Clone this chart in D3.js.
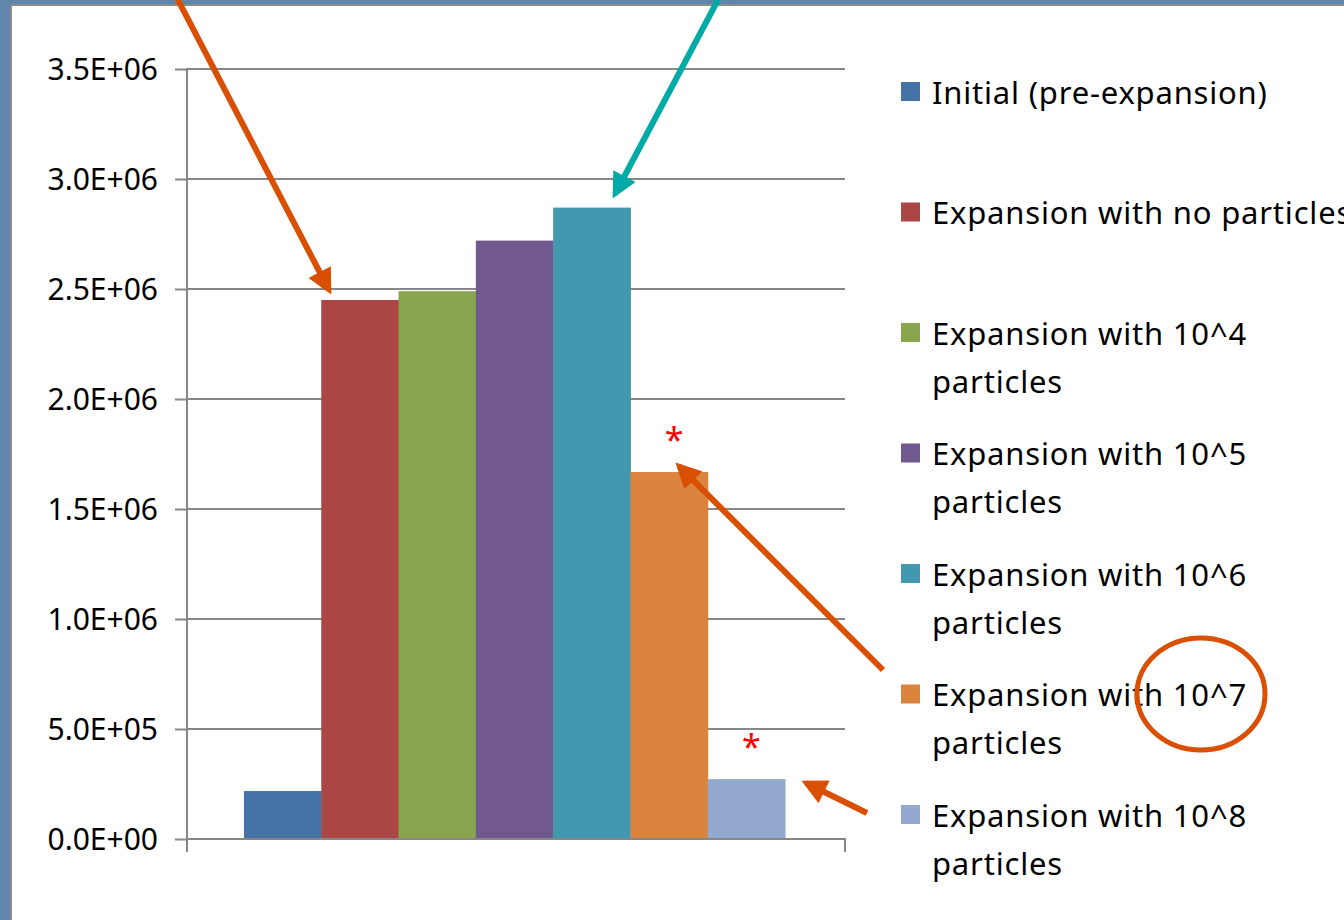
<!DOCTYPE html>
<html>
<head>
<meta charset="utf-8">
<script src="https://cdn.jsdelivr.net/npm/d3@7"></script>
<style>
  html, body { margin: 0; padding: 0; background: #5f87ae; }
  svg { display: block; }
</style>
</head>
<body>
<svg id="chart" width="1344" height="920"></svg>
<script>
// series shown as bars, in legend order
const seriesNames = [
  "Initial (pre-expansion)",
  "Expansion with no particles",
  "Expansion with 10^4 particles",
  "Expansion with 10^5 particles",
  "Expansion with 10^6 particles",
  "Expansion with 10^7 particles",
  "Expansion with 10^8 particles"
];
const seriesValues = [218000, 2450000, 2490000, 2720000, 2870000, 1668000, 272000];
const seriesColors = ["#4572a7", "#aa4643", "#89a54e", "#71588f", "#4198af", "#db843d", "#93a9cf"];
const legendLines = [
  ["Initial (pre-expansion)"],
  ["Expansion with no particles"],
  ["Expansion with 10^4", "particles"],
  ["Expansion with 10^5", "particles"],
  ["Expansion with 10^6", "particles"],
  ["Expansion with 10^7", "particles"],
  ["Expansion with 10^8", "particles"]
];
const yTicks = [0, 500000, 1000000, 1500000, 2000000, 2500000, 3000000, 3500000];
// bars marked with an asterisk
const starred = ["Expansion with 10^7 particles", "Expansion with 10^8 particles"];

const svg = d3.select("#chart");
const W = 1344, H = 920;
const plot = { left: 187, right: 845, top: 69, bottom: 839 };
const accent = "#d94f04";

// slide background + white panel
svg.append("rect").attr("width", W).attr("height", H).attr("fill", "#5f87ae");
svg.append("rect").attr("x", 11).attr("y", 5).attr("width", W).attr("height", H)
  .attr("fill", "#fff").attr("stroke", "#8a8a8a").attr("stroke-width", 2);

const y = d3.scaleLinear().domain([0, 3500000]).range([plot.bottom, plot.top]);
const x = d3.scaleBand().domain(seriesNames).range([plot.left, plot.right - 3])
  .paddingInner(0).paddingOuter(0.737);

function sci(v) {
  if (v === 0) return "0.0E+00";
  const e = Math.floor(Math.log10(v));
  const m = v / Math.pow(10, e);
  return m.toFixed(1) + "E+" + String(e).padStart(2, "0");
}

// gridlines
svg.append("g").selectAll("line").data(yTicks.filter(d => d > 0)).join("line")
  .attr("x1", plot.left).attr("x2", plot.right)
  .attr("y1", d => y(d)).attr("y2", d => y(d))
  .attr("stroke", "#878787").attr("stroke-width", 2);

// bars
svg.append("g").selectAll("rect").data(seriesNames).join("rect")
  .attr("x", d => x(d))
  .attr("width", x.bandwidth() + 0.5)
  .attr("y", (d, i) => y(seriesValues[i]))
  .attr("height", (d, i) => plot.bottom - y(seriesValues[i]))
  .attr("fill", (d, i) => seriesColors[i]);

// y axis
const yAxis = svg.append("g").attr("transform", `translate(${plot.left},0)`)
  .call(d3.axisLeft(y).tickValues(yTicks).tickFormat(sci).tickSize(12).tickPadding(17));
yAxis.select(".domain").remove();
yAxis.selectAll(".tick line").attr("stroke", "#878787").attr("stroke-width", 2);
yAxis.selectAll(".tick text").attr("font-family", "Noto Sans").attr("font-size", 30)
  .attr("fill", "#000").attr("dy", "0.35em");
yAxis.append("line").attr("x1", 0).attr("x2", 0).attr("y1", plot.top - 1).attr("y2", plot.bottom + 13)
  .attr("stroke", "#878787").attr("stroke-width", 2);

// x axis baseline
svg.append("line").attr("x1", plot.left).attr("x2", plot.right + 1)
  .attr("y1", plot.bottom).attr("y2", plot.bottom)
  .attr("stroke", "#878787").attr("stroke-width", 2);
svg.append("line").attr("x1", plot.right).attr("x2", plot.right)
  .attr("y1", plot.bottom).attr("y2", plot.bottom + 13)
  .attr("stroke", "#878787").attr("stroke-width", 2);

// asterisks
svg.append("g").selectAll("text").data(starred).join("text")
  .attr("x", d => x(d) + x.bandwidth() / 2 + 5)
  .attr("y", d => y(seriesValues[seriesNames.indexOf(d)]) - 20)
  .attr("text-anchor", "middle")
  .attr("font-family", "Noto Sans").attr("font-size", 34).attr("fill", "#ff0000")
  .text("*");

// legend
const legend = svg.append("g").attr("transform", "translate(901,0)");
const item = legend.selectAll("g").data(seriesNames).join("g")
  .attr("transform", (d, i) => `translate(0,${92 + i * 120.5})`);
item.append("rect").attr("x", 0).attr("y", -10).attr("width", 19).attr("height", 19)
  .attr("fill", (d, i) => seriesColors[i]);
item.append("text")
  .attr("x", 31).attr("y", 1)
  .attr("font-family", "Noto Sans").attr("font-size", 31).attr("fill", "#000")
  .attr("letter-spacing", 0.8)
  .selectAll("tspan").data((d, i) => legendLines[i]).join("tspan")
  .attr("x", 31).attr("dy", (d, j) => j === 0 ? "0.35em" : 48)
  .text(d => d);

// annotation arrows
const defs = svg.append("defs");
function marker(id, color) {
  defs.append("marker").attr("id", id).attr("viewBox", "0 0 10 10")
    .attr("refX", 8).attr("refY", 5).attr("markerWidth", 4.5).attr("markerHeight", 4.2)
    .attr("orient", "auto").attr("markerUnits", "strokeWidth")
    .append("path").attr("d", "M0,0 L10,5 L0,10 Z").attr("fill", color);
}
marker("headOrange", accent);
marker("headTeal", "#00aaa6");

const arrows = [
  { from: [177, -2], to: [329, 290], color: accent, head: "headOrange" },
  { from: [719, -2], to: [615, 194], color: "#00aaa6", head: "headTeal" },
  { from: [883, 670], to: [679, 466], color: accent, head: "headOrange" },
  { from: [867, 813], to: [806, 783], color: accent, head: "headOrange" }
];
svg.append("g").selectAll("line").data(arrows).join("line")
  .attr("x1", d => d.from[0]).attr("y1", d => d.from[1])
  .attr("x2", d => d.to[0]).attr("y2", d => d.to[1])
  .attr("stroke", d => d.color).attr("stroke-width", 6)
  .attr("marker-end", d => `url(#${d.head})`);

svg.append("ellipse").attr("cx", 1201).attr("cy", 694).attr("rx", 64).attr("ry", 56)
  .attr("fill", "none").attr("stroke", accent).attr("stroke-width", 5);
</script>
</body>
</html>
